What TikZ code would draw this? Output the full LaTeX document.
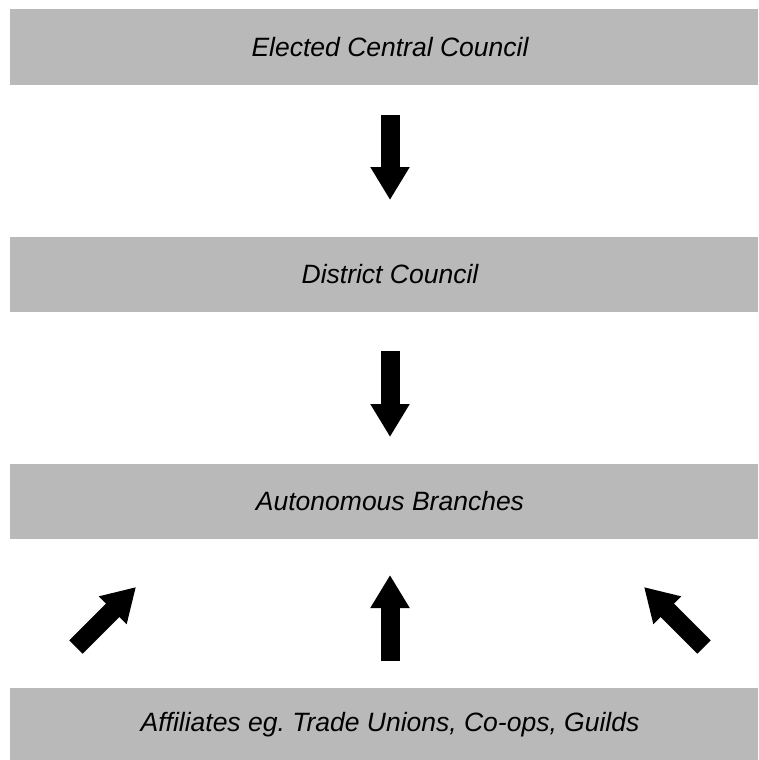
\documentclass[tikz,border=0pt]{standalone}
\usepackage{fontspec}
\setmainfont{Liberation Sans}
\usetikzlibrary{arrows.meta}
\definecolor{bargray}{RGB}{185,185,185}
\frenchspacing
\begin{document}
\begin{tikzpicture}[x=1pt, y=-1pt,
    bar/.style={shape=rectangle, fill=bargray, inner sep=0pt,
                minimum width=748pt, minimum height=75pt},
    barlabel/.style={font=\fontsize{26.5}{30}\selectfont\itshape},
    blockarrow/.style={line width=19pt,
                -{Triangle[length=33pt, width=37pt]}}]
    \useasboundingbox (0,0) rectangle (758,760);
    \node[bar] (central) at (384,47) {};
    \node[bar] (district) at (384,274) {};
    \node[bar] (branches) at (384,501.5) {};
    \node[bar] (affiliates) at (384,725) {};
    \node[barlabel] (centraltext) at ([xshift=6pt]central.center) {Elected Central Council};
    \node[barlabel] (districttext) at ([xshift=6pt]district.center) {District Council};
    \node[barlabel] (branchestext) at ([xshift=6pt]branches.center) {Autonomous Branches};
    \node[barlabel] (affiliatestext) at ([xshift=6pt]affiliates.center) {Affiliates eg. Trade Unions, Co-ops, Guilds};
    \coordinate (a1s) at (390,115); \coordinate (a1e) at (390,200);
    \coordinate (a2s) at (390,351); \coordinate (a2e) at (390,437);
    \coordinate (upl) at (76,647);  \coordinate (upl') at (136,587);
    \coordinate (upm) at (390,661); \coordinate (upm') at (390,575);
    \coordinate (upr) at (704,647); \coordinate (upr') at (644,587);
    \draw[blockarrow] (a1s) -- (a1e);
    \draw[blockarrow] (a2s) -- (a2e);
    \draw[blockarrow] (upl) -- (upl');
    \draw[blockarrow] (upm) -- (upm');
    \draw[blockarrow] (upr) -- (upr');
\end{tikzpicture}
\end{document}
